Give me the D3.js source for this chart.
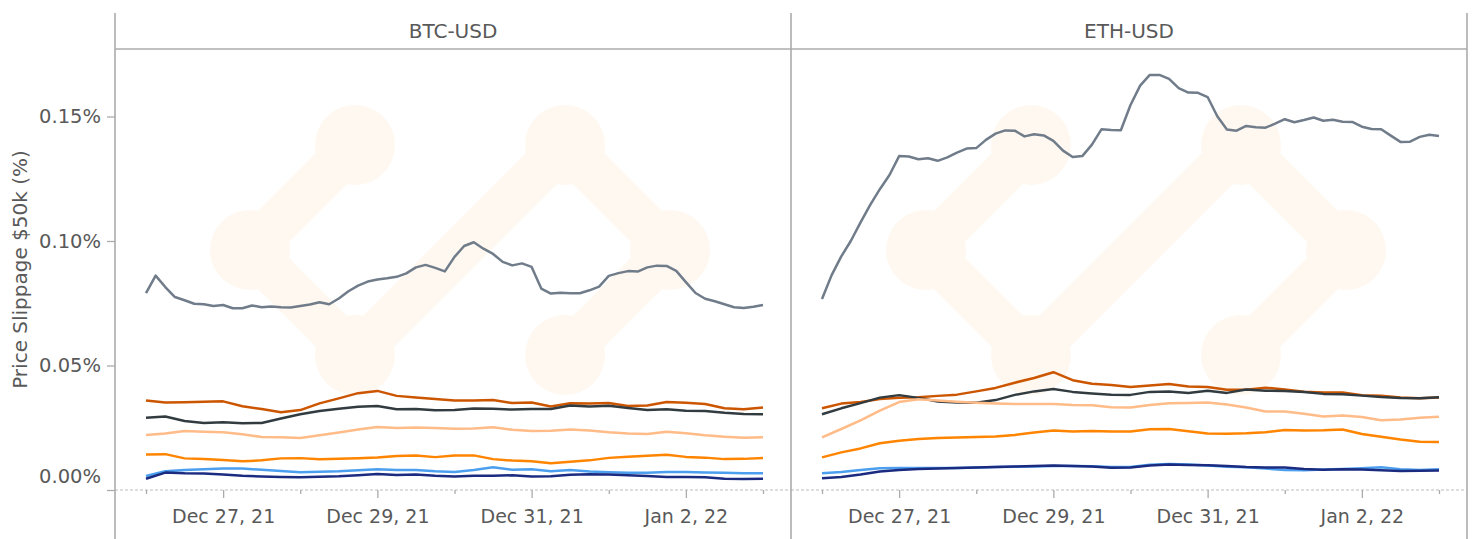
<!DOCTYPE html>
<html>
<head>
<meta charset="utf-8">
<script src="https://cdn.jsdelivr.net/npm/d3@7"></script>
<style>
	body { margin: 0; background: #fff; }
	svg { display: block; font-family: 'DejaVu Sans', sans-serif; }
</style>
</head>
<body>
<div id="chart"></div>
<script>
window.document.title = 'Price Slippage $50k'

// facets and series
const pairs = ['BTC-USD', 'ETH-USD']
const seriesNames = ['gray', 'darkOrange', 'slate', 'peach', 'orange', 'lightBlue', 'navy']
const seriesColors = ['#707c8a', '#cc5500', '#323c40', '#ffbb88', '#ff8400', '#4c9fee', '#1b2b80']
const yTicks = [0, 0.05, 0.1, 0.15]

// first and last timestamp of every series (UTC); points are evenly spaced between
const startTime = new Date(Date.UTC(2021, 11, 26))
const endTime = new Date(Date.UTC(2022, 0, 3))

// BTC-USD, values in %
const btcGray = [
	0.0791, 0.0861, 0.0815, 0.0775, 0.0762, 0.0748, 0.0746, 0.0739, 0.0743, 0.073,
	0.073, 0.0741, 0.0734, 0.0737, 0.0734, 0.0733, 0.0739, 0.0745, 0.0754, 0.0746,
	0.0769, 0.0798, 0.0821, 0.0837, 0.0845, 0.085, 0.0856, 0.087, 0.0894, 0.0904,
	0.0892, 0.0878, 0.0936, 0.098, 0.0995, 0.0969, 0.0948, 0.0916, 0.0902, 0.091,
	0.0896, 0.0809, 0.0789, 0.0792, 0.079, 0.079, 0.0802, 0.0817, 0.086, 0.0871,
	0.0879, 0.0877, 0.0894, 0.0901, 0.09, 0.088, 0.0835, 0.0791, 0.0768, 0.0758,
	0.0746, 0.0734, 0.0731, 0.0736, 0.0743,
]
const btcDarkOrange = [
	0.0359, 0.0351, 0.0352, 0.0354, 0.0356, 0.0336, 0.0325, 0.0312, 0.0321, 0.0348,
	0.0368, 0.0389, 0.0398, 0.0378, 0.0371, 0.0365, 0.0359, 0.0359, 0.0361, 0.0349,
	0.0351, 0.0335, 0.0348, 0.0347, 0.0349, 0.0337, 0.0339, 0.0353, 0.035, 0.0345,
	0.0328, 0.0324, 0.0331,
]
const btcSlate = [
	0.029, 0.0295, 0.0277, 0.0269, 0.0272, 0.0268, 0.0269, 0.0287, 0.0304, 0.0317,
	0.0326, 0.0334, 0.0337, 0.0324, 0.0325, 0.032, 0.0321, 0.0327, 0.0326, 0.0323,
	0.0325, 0.0325, 0.0339, 0.0335, 0.0338, 0.0329, 0.0321, 0.0324, 0.0318, 0.0317,
	0.031, 0.0305, 0.0304,
]
const btcPeach = [
	0.0221, 0.0227, 0.0237, 0.0234, 0.0232, 0.0224, 0.0213, 0.0212, 0.0209, 0.022,
	0.0231, 0.0243, 0.0253, 0.0249, 0.0251, 0.0249, 0.0246, 0.0247, 0.0252, 0.0242,
	0.0237, 0.0238, 0.0243, 0.0239, 0.0232, 0.0227, 0.0225, 0.0234, 0.0228, 0.022,
	0.0214, 0.021, 0.0212,
]
const btcOrange = [
	0.0143, 0.0144, 0.0127, 0.0124, 0.012, 0.0115, 0.0119, 0.0127, 0.0128, 0.0123,
	0.0125, 0.0128, 0.0131, 0.0137, 0.0139, 0.0132, 0.0139, 0.0139, 0.0124, 0.0118,
	0.0115, 0.0107, 0.0113, 0.0119, 0.0129, 0.0134, 0.0138, 0.0142, 0.0133, 0.013,
	0.0124, 0.0125, 0.0129,
]
const btcLightBlue = [
	0.0056, 0.0075, 0.008, 0.0083, 0.0086, 0.0086, 0.0081, 0.0076, 0.0071, 0.0073,
	0.0075, 0.0079, 0.0083, 0.008, 0.008, 0.0075, 0.0072, 0.008, 0.0091, 0.0081,
	0.0083, 0.0075, 0.008, 0.0074, 0.0071, 0.0069, 0.0069, 0.0072, 0.0072, 0.007,
	0.0069, 0.0067, 0.0067,
]
const btcNavy = [
	0.0045, 0.007, 0.0067, 0.0066, 0.0062, 0.0057, 0.0054, 0.0052, 0.0051, 0.0053,
	0.0055, 0.0059, 0.0064, 0.006, 0.0062, 0.0057, 0.0054, 0.0057, 0.0057, 0.0059,
	0.0054, 0.0055, 0.0061, 0.0063, 0.0062, 0.0059, 0.0056, 0.0052, 0.0052, 0.0051,
	0.0045, 0.0044, 0.0045,
]

// ETH-USD, values in %
const ethGray = [
	0.0767, 0.0863, 0.0938, 0.1001, 0.1075, 0.1145, 0.1208, 0.1265, 0.1341, 0.1339,
	0.1328, 0.1332, 0.1322, 0.1336, 0.1355, 0.1371, 0.1373, 0.1406, 0.1431, 0.1444,
	0.1443, 0.142, 0.1429, 0.1424, 0.1402, 0.1363, 0.1337, 0.1341, 0.1387, 0.1449,
	0.1446, 0.1445, 0.1546, 0.1624, 0.1667, 0.1667, 0.1651, 0.1614, 0.1596, 0.1595,
	0.1578, 0.1501, 0.1448, 0.1443, 0.1462, 0.1457, 0.1455, 0.1471, 0.1489, 0.1477,
	0.1486, 0.1496, 0.1483, 0.1487, 0.1479, 0.1478, 0.1459, 0.145, 0.1449, 0.1423,
	0.1398, 0.1399, 0.1418, 0.1427, 0.1422,
]
const ethDarkOrange = [
	0.0328, 0.0347, 0.0353, 0.0365, 0.037, 0.0372, 0.0378, 0.0383, 0.0396, 0.041,
	0.0431, 0.045, 0.0473, 0.0441, 0.0427, 0.0422, 0.0414, 0.042, 0.0426, 0.0416,
	0.0414, 0.0403, 0.0403, 0.0411, 0.0404, 0.0395, 0.0392, 0.0392, 0.0381, 0.0379,
	0.0371, 0.0368, 0.0371,
]
const ethSlate = [
	0.0304, 0.0328, 0.0349, 0.0371, 0.0381, 0.037, 0.0355, 0.0351, 0.035, 0.0361,
	0.0382, 0.0396, 0.0406, 0.0394, 0.0388, 0.0383, 0.0382, 0.0394, 0.0396, 0.039,
	0.0399, 0.039, 0.0404, 0.0399, 0.0398, 0.0394, 0.0386, 0.0385, 0.0379, 0.0373,
	0.0369, 0.0368, 0.0372,
]
const ethPeach = [
	0.0211, 0.0245, 0.028, 0.0319, 0.0353, 0.0364, 0.0359, 0.0354, 0.035, 0.0347,
	0.0345, 0.0345, 0.0345, 0.0341, 0.034, 0.0332, 0.0331, 0.0341, 0.0348, 0.0349,
	0.0351, 0.0343, 0.0331, 0.0315, 0.0315, 0.0306, 0.0295, 0.0299, 0.0293, 0.028,
	0.0283, 0.029, 0.0294,
]
const ethOrange = [
	0.0131, 0.0151, 0.0167, 0.0188, 0.0198, 0.0205, 0.0209, 0.0211, 0.0213, 0.0215,
	0.0221, 0.0231, 0.0239, 0.0235, 0.0237, 0.0235, 0.0235, 0.0244, 0.0245, 0.0236,
	0.0227, 0.0226, 0.0228, 0.0232, 0.0241, 0.0239, 0.024, 0.0243, 0.0225, 0.0214,
	0.0203, 0.0194, 0.0193,
]
const ethLightBlue = [
	0.0067, 0.0072, 0.008, 0.0087, 0.0088, 0.0088, 0.0088, 0.0088, 0.009, 0.0092,
	0.0093, 0.0094, 0.0096, 0.0096, 0.0095, 0.0092, 0.0092, 0.0101, 0.0104, 0.0102,
	0.0098, 0.0093, 0.0091, 0.0086, 0.008, 0.0079, 0.0082, 0.0084, 0.0087, 0.0091,
	0.0083, 0.008, 0.0083,
]
const ethNavy = [
	0.0047, 0.0052, 0.0062, 0.0074, 0.008, 0.0084, 0.0086, 0.0088, 0.009, 0.0092,
	0.0094, 0.0096, 0.0098, 0.0096, 0.0094, 0.0089, 0.009, 0.0098, 0.0102, 0.01,
	0.0099, 0.0096, 0.0092, 0.009, 0.009, 0.0084, 0.0081, 0.0083, 0.0082, 0.0079,
	0.0076, 0.0077, 0.0078,
]

const seriesByPair = [
	[btcGray, btcDarkOrange, btcSlate, btcPeach, btcOrange, btcLightBlue, btcNavy],
	[ethGray, ethDarkOrange, ethSlate, ethPeach, ethOrange, ethLightBlue, ethNavy],
]

const fullWidth = 1477
const fullHeight = 539
const frameTop = 13
const headerBottom = 49
const plotBottom = 490
const axisLeft = 115
const panelWidth = 676
const textColor = '#595959'
const ruleColor = '#ababab'
const logoColor = '#fef8f0'

const x = d3
	.scaleUtc()
	.domain([startTime, endTime])
	.range([31, panelWidth - 28])
const y = d3.scaleLinear().domain([0, 0.1771]).range([plotBottom, headerBottom])

const line = d3
	.line()
	.x((d) => x(d.time))
	.y((d) => y(d.value))

function toPoints(values) {
	const step = (endTime - startTime) / (values.length - 1)
	return values.map((value, i) => ({time: new Date(+startTime + i * step), value}))
}

const svg = d3
	.select('#chart')
	.append('svg')
	.attr('width', fullWidth)
	.attr('height', fullHeight)

drawPanels()
drawYAxis()
drawFrame()

function drawLogo(g, cx, cy) {
	const s = 105
	const pts = [
		[cx - s, cy - s],
		[cx - 2 * s, cy],
		[cx - s, cy + s],
		[cx + s, cy - s],
		[cx + 2 * s, cy],
		[cx + s, cy + s],
	]
	g.append('path')
		.attr('d', d3.line()(pts))
		.attr('fill', 'none')
		.attr('stroke', logoColor)
		.attr('stroke-width', 44)
		.attr('stroke-linejoin', 'round')
		.attr('stroke-linecap', 'round')
	g.selectAll('circle.knob')
		.data(pts)
		.enter()
		.append('circle')
		.attr('class', 'knob')
		.attr('cx', (d) => d[0])
		.attr('cy', (d) => d[1])
		.attr('r', 40)
		.attr('fill', logoColor)
}

function drawPanels() {
	const days = d3.utcDay.range(startTime, d3.utcDay.offset(endTime, 1))
	const fmt = d3.utcFormat('%b %-d, %y')

	pairs.forEach((pair, p) => {
		const g = svg.append('g').attr('transform', `translate(${axisLeft + p * panelWidth},0)`)

		drawLogo(g, panelWidth / 2 + 7, 250)

		// dashed baseline
		g.append('line')
			.attr('x1', 0)
			.attr('x2', panelWidth)
			.attr('y1', plotBottom)
			.attr('y2', plotBottom)
			.attr('stroke', '#bdbdbd')
			.attr('stroke-width', 1.2)
			.attr('stroke-dasharray', '3,2')

		const xAxis = g
			.append('g')
			.attr('transform', `translate(0,${plotBottom})`)
			.call(
				d3
					.axisBottom(x)
					.tickValues(days)
					.tickSize(8)
					.tickPadding(12)
					.tickFormat((d, i) => (i % 2 === 1 ? fmt(d) : ''))
			)
		xAxis.select('.domain').remove()
		xAxis
			.selectAll('.tick line')
			.attr('stroke', ruleColor)
			.attr('stroke-width', 1.3)
			.attr('y2', (d, i) => (i % 2 === 1 ? 8 : 4))
		xAxis
			.selectAll('.tick text')
			.attr('fill', textColor)
			.attr('font-size', 19)
			.attr('font-family', 'DejaVu Sans, sans-serif')

		// header
		g.append('text')
			.attr('x', panelWidth / 2)
			.attr('y', 38)
			.attr('text-anchor', 'middle')
			.attr('fill', textColor)
			.attr('font-size', 20)
			.text(pair)

		g.selectAll('path.series')
			.data(seriesByPair[p].map(toPoints))
			.enter()
			.append('path')
			.attr('class', 'series')
			.attr('d', line)
			.attr('fill', 'none')
			.attr('stroke', (d, i) => seriesColors[i])
			.attr('stroke-width', 2.5)
			.attr('stroke-linejoin', 'round')
	})
}

function drawYAxis() {
	const yAxis = svg
		.append('g')
		.attr('transform', `translate(${axisLeft},0)`)
		.call(
			d3
				.axisLeft(y)
				.tickValues(yTicks)
				.tickSize(8)
				.tickPadding(6)
				.tickFormat((d) => d3.format('.2f')(d) + '%')
		)
	yAxis.select('.domain').remove()
	yAxis.selectAll('.tick line').attr('stroke', ruleColor).attr('stroke-width', 1.3)
	yAxis
		.selectAll('.tick text')
		.attr('fill', textColor)
		.attr('font-size', 19.5)
		.attr('font-family', 'DejaVu Sans, sans-serif')
		.attr('dy', (d) => (d === 0 ? '-0.4em' : '0.32em'))

	svg.append('text')
		.attr('transform', `translate(27,${(headerBottom + plotBottom) / 2}) rotate(-90)`)
		.attr('text-anchor', 'middle')
		.attr('fill', textColor)
		.attr('font-size', 20)
		.text('Price Slippage $50k (%)')
}

function drawFrame() {
	const right = axisLeft + pairs.length * panelWidth
	const frame = svg.append('g').attr('stroke', ruleColor).attr('stroke-width', 1.6)
	frame
		.selectAll('line.v')
		.data(d3.range(pairs.length + 1))
		.enter()
		.append('line')
		.attr('class', 'v')
		.attr('x1', (d) => axisLeft + d * panelWidth)
		.attr('x2', (d) => axisLeft + d * panelWidth)
		.attr('y1', frameTop)
		.attr('y2', fullHeight)
	frame
		.append('line')
		.attr('x1', axisLeft)
		.attr('x2', right)
		.attr('y1', headerBottom)
		.attr('y2', headerBottom)
}
</script>
</body>
</html>
